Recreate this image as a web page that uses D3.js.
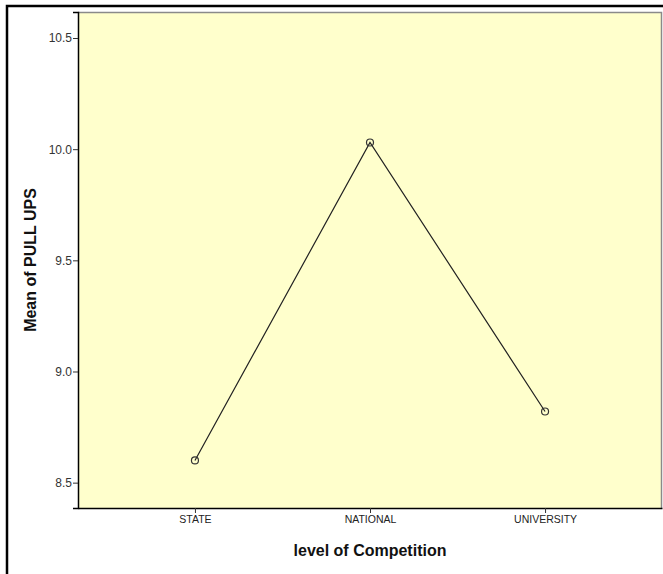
<!DOCTYPE html>
<html><head><meta charset="utf-8">
<script src="https://cdn.jsdelivr.net/npm/d3@7"></script>
<style>body{margin:0;background:#fff}svg{display:block}</style>
</head><body>
<script>
const categories = ["STATE", "NATIONAL", "UNIVERSITY"];
const means = [8.60, 10.03, 8.82];
const yTicks = [8.5, 9.0, 9.5, 10.0, 10.5];

const W = 663, H = 574;
const L = 78, R = 662, T = 12, B = 508;
const svg = d3.select("body").append("svg").attr("width", W).attr("height", H);

// outer frame
svg.append("rect").attr("x", 7).attr("y", 6).attr("width", 700).attr("height", 700)
  .attr("fill", "none").attr("stroke", "#000").attr("stroke-width", 2.5);

const x = d3.scalePoint().domain(categories).range([L, R]).padding(0.668);
const y = d3.scaleLinear().domain([8.386, 10.617]).range([B, T]);

svg.append("rect").attr("x", L).attr("y", T).attr("width", R - L).attr("height", B - T)
  .attr("fill", "#ffffcc");
// top & right border gray
svg.append("path").attr("d", `M${L},${T + 0.5}H${R - 0.5}V${B}`).attr("fill", "none")
  .attr("stroke", "#8a8a8a").attr("stroke-width", 1.5);

const yAxis = svg.append("g").attr("transform", `translate(${L},0)`)
  .call(d3.axisLeft(y).tickValues(yTicks).tickFormat(d3.format(".1f")).tickSize(5).tickPadding(1));
yAxis.select(".domain").attr("stroke", "#000").attr("stroke-width", 1.5);
yAxis.selectAll(".tick line").attr("stroke", "#333");
yAxis.selectAll("text").attr("font-family", "Liberation Sans, Arial, sans-serif")
  .attr("font-size", 12).attr("fill", "#333");

const xAxis = svg.append("g").attr("transform", `translate(0,${B})`)
  .call(d3.axisBottom(x).tickSize(5).tickSizeOuter(0).tickPadding(3));
xAxis.select(".domain").attr("stroke", "#000").attr("stroke-width", 1.5);
xAxis.selectAll(".tick line").attr("stroke", "#333");
xAxis.selectAll("text").attr("font-family", "Liberation Sans, Arial, sans-serif")
  .attr("font-size", 10.5).attr("fill", "#222");

const pts = categories.map((c, i) => [x(c), y(means[i])]);
svg.append("path").attr("d", d3.line()(pts)).attr("fill", "none")
  .attr("stroke", "#222").attr("stroke-width", 1.2);
svg.selectAll("circle.m").data(pts).join("circle").attr("class", "m")
  .attr("cx", d => d[0]).attr("cy", d => d[1]).attr("r", 3.5)
  .attr("fill", "none").attr("stroke", "#333").attr("stroke-width", 1.2);

svg.append("text").attr("x", 370).attr("y", 556).attr("text-anchor", "middle")
  .attr("font-family", "Liberation Sans, Arial, sans-serif").attr("font-weight", "bold")
  .attr("font-size", 16).attr("fill", "#111").text("level of Competition");
svg.append("text").attr("transform", `translate(36,${(T + B) / 2}) rotate(-90)`)
  .attr("text-anchor", "middle")
  .attr("font-family", "Liberation Sans, Arial, sans-serif").attr("font-weight", "bold")
  .attr("font-size", 16).attr("fill", "#111").text("Mean of PULL UPS");
</script>
</body></html>
